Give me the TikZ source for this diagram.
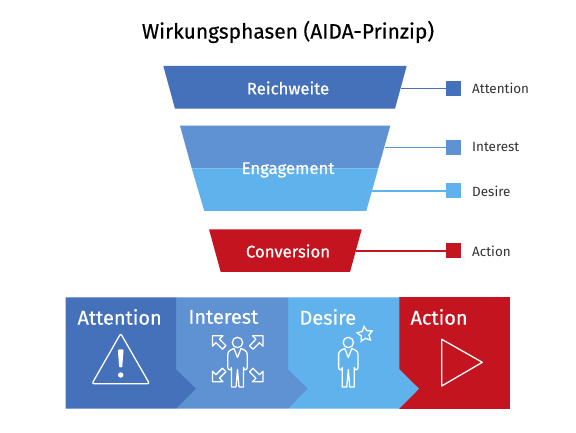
\documentclass[tikz,border=0pt]{standalone}
\usepackage{fontspec}
\setmainfont{Fira Sans}
\newfontfamily\heavyfont[FakeBold=0.35]{Fira Sans}
\newfontfamily\funnelfont[FakeBold=0.6]{Fira Sans}
\usetikzlibrary{positioning,shapes.geometric}

\definecolor{attcol}{HTML}{4570BA}
\definecolor{intcol}{HTML}{5F92D2}
\definecolor{descol}{HTML}{60B2EC}
\definecolor{actcol}{HTML}{C31420}

\tikzset{
  funneltext/.style={text=white,font=\fontsize{16.8}{19}\selectfont\funnelfont},
  bandtext/.style={text=white,anchor=west,font=\fontsize{20}{24}\selectfont\heavyfont},
  legendbox/.style={minimum size=15bp,inner sep=0pt},
  legendtext/.style={right=7.5bp of #1,text=black!80,font=\fontsize{13.5}{16}\selectfont},
  legendline/.style={line width=1.2bp},
  iconline/.style={draw=white,line width=1.3bp,line join=round},
  person/.pic={
    \draw[iconline] (0,0) circle (5.2);
    \draw[iconline] (-3.5,-6) .. controls (-7,-7.5) and (-9.7,-8.5) .. (-9.7,-12) -- (-9.7,-25)
      .. controls (-9.7,-28) and (-6,-28) .. (-6,-25) -- (-6,-44.5) -- (-1.5,-44.5) -- (0,-27)
      -- (1.5,-44.5) -- (6,-44.5) -- (6,-25) .. controls (6,-28) and (9.7,-28) .. (9.7,-25)
      -- (9.7,-12) .. controls (9.7,-8.5) and (7,-7.5) .. (3.5,-6) -- (0,-15) -- cycle;
  },
  outarrow/.pic={
    \draw[iconline] (12,12) -- (12,1.5) -- (8.5,5) -- (2,-1.5) -- (-1.5,2) -- (5,8.5) -- (1.5,12) -- cycle;
  }
}

\begin{document}
\begin{tikzpicture}[x=1bp,y=1bp]
  \path[use as bounding box] (0,0) rectangle (576,433);
  \fill[white] (0,0) rectangle (576,433);

  \node (title) at (288,401) {\fontsize{21}{25}\selectfont\heavyfont Wirkungsphasen (AIDA-Prinzip)};

  % funnel
  \fill[attcol] (163.3,367) -- (406.7,367) -- (395,324.3) -- (175,324.3) -- cycle;
  \fill[intcol] (180,307.3) -- (390.3,307.3) -- (378.3,264.7) -- (191.7,264.7) -- cycle;
  \fill[descol] (191.7,264.7) -- (378.3,264.7) -- (366.3,222) -- (204.3,222) -- cycle;
  \fill[actcol] (209,203.7) -- (361.7,203.7) -- (350,161) -- (220.7,161) -- cycle;
  \node[funneltext] (reach) at (288,345) {Reichweite};
  \node[funneltext] (engage) at (288,263) {Engagement};
  \node[funneltext] (convert) at (288,182) {Conversion};

  % legend
  \coordinate (attstart) at (401,344.7);
  \coordinate (intstart) at (385,285.7);
  \coordinate (desstart) at (372,242);
  \coordinate (actstart) at (356,182);
  \node[legendbox,fill=attcol] (attbox) at (453.5,344.7) {};
  \node[legendbox,fill=intcol] (intbox) at (453.5,285.7) {};
  \node[legendbox,fill=descol] (desbox) at (453.5,242) {};
  \node[legendbox,fill=actcol] (actbox) at (453.5,182) {};
  \draw[legendline,attcol] (attstart) -- (attbox);
  \draw[legendline,intcol] (intstart) -- (intbox);
  \draw[legendline,descol] (desstart) -- (desbox);
  \draw[legendline,actcol] (actstart) -- (actbox);
  \node[legendtext=attbox] (attlabel) {Attention};
  \node[legendtext=intbox] (intlabel) {Interest};
  \node[legendtext=desbox] (deslabel) {Desire};
  \node[legendtext=actbox] (actlabel) {Action};

  % band
  \fill[actcol] (399.3,135.7) rectangle (510,24.3);
  \fill[descol] (288,135.7) -- (399.3,135.7) -- (399.3,63.7) -- (419,44.3) -- (399.3,24.3) -- (288,24.3) -- cycle;
  \fill[intcol] (176,135.7) -- (288,135.7) -- (288,63.7) -- (307.5,44.3) -- (288,24.3) -- (176,24.3) -- cycle;
  \fill[attcol] (65.5,135.7) -- (176,135.7) -- (176,63.7) -- (196,44.3) -- (176,24.3) -- (65.5,24.3) -- cycle;
  \node[bandtext] (attband) at (74,116) {Attention};
  \node[bandtext] (intband) at (185,116) {Interest};
  \node[bandtext] (desband) at (296,116) {Desire};
  \node[bandtext] (actband) at (407,116) {Action};

  % icons
  \draw[iconline,rounded corners=2bp] (120.7,99.5) -- (149.5,49.3) -- (92,49.3) -- cycle;
  \fill[white,rounded corners=1bp] (117.8,83.5) -- (123.6,83.5) -- (122.2,65.5) -- (119.2,65.5) -- cycle;
  \fill[white] (120.7,58) circle (2.7);
  \pic at (237.5,90.5) {person};
  \pic at (251,85.3) {outarrow};
  \pic[xscale=-1] at (224.4,85.3) {outarrow};
  \pic[yscale=-1] at (251,63.3) {outarrow};
  \pic[xscale=-1,yscale=-1] at (224.4,63.3) {outarrow};
  \pic at (348.3,90.5) {person};
  \node[star,star points=5,star point ratio=2,draw=white,line width=1.3bp,inner sep=0pt,minimum size=16bp,shape border rotate=7] (wish) at (365,98.7) {};
  \draw[iconline] (441.7,93.7) -- (482.3,70.7) -- (441.7,47) -- cycle;
\end{tikzpicture}
\end{document}
